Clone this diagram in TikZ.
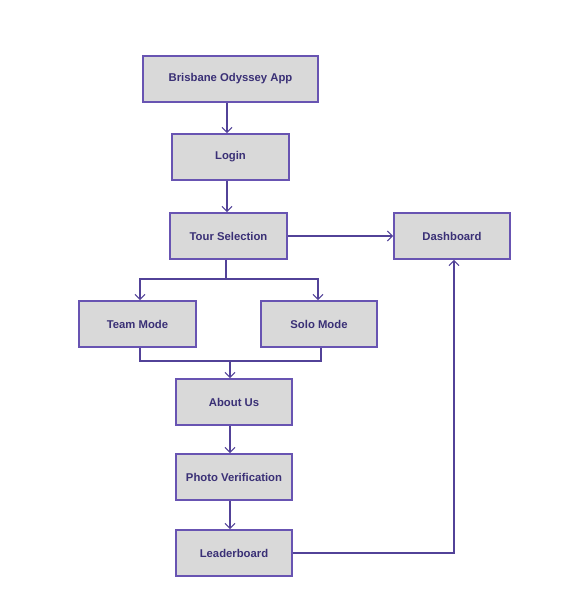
\documentclass[tikz,border=0pt]{standalone}
\usepackage{fontspec}
\setmainfont{Liberation Sans}
\usetikzlibrary{positioning,arrows.meta}
\definecolor{boxEdge}{RGB}{104,84,178}
\definecolor{boxFill}{RGB}{217,217,217}
\definecolor{boxText}{RGB}{58,48,118}
\definecolor{flowLine}{RGB}{82,66,152}

\begin{document}
\begin{tikzpicture}[
  x=1pt, y=-1pt,
  >={Straight Barb[length=5pt, width=10pt, line width=1.1pt]},
  screen/.style={draw=boxEdge, line width=1.8pt, fill=boxFill, text=boxText,
    minimum width=117pt, minimum height=46pt, inner sep=0pt,
    font=\bfseries\fontsize{11.3}{13}\selectfont},
  flow/.style={draw=flowLine, line width=1.1pt},
]
\useasboundingbox (0,0) rectangle (584,612);

% ---- screens ----
\node[screen, minimum width=175pt] (APP) at (230.5,79) {Brisbane Odyssey App};
\node[screen] (LOGIN) at (230.5,157) {Login};
\node[screen] (TOUR)  at (228.5,236) {Tour Selection};
\node[screen, minimum width=116pt] (DASH) at (452,236) {Dashboard};
\node[screen] (TEAM)  at (137.5,324) {Team Mode};
\node[screen, minimum width=116pt] (SOLO) at (319,324) {Solo Mode};
\node[screen, minimum width=116pt] (ABOUT) at (234,402) {About Us};
\node[screen, minimum width=116pt] (PHOTO) at (234,477) {Photo Verification};
\node[screen, minimum width=116pt] (LEAD)  at (234,553) {Leaderboard};

% ---- line columns ----
\coordinate (colA)  at (227,0);
\coordinate (colB)  at (230,0);
\coordinate (colD)  at (454,0);
\coordinate (split) at (226,279);
\coordinate (merge) at (230,361);

% ---- main flow ----
\draw[flow,->] (APP.south -| colA) -- (LOGIN.north -| colA);
\draw[flow,->] (LOGIN.south -| colA) -- (TOUR.north -| colA);
\draw[flow,->] (TOUR) -- (DASH);

% ---- mode split / merge ----
\draw[flow] (TOUR.south -| split) -- (split);
\draw[flow,->] (split) -| ([xshift=2.5pt]TEAM.north);
\draw[flow,->] (split) -| ([xshift=-1pt]SOLO.north);
\draw[flow] ([xshift=2.5pt]TEAM.south) |- (merge) -| ([xshift=2pt]SOLO.south);
\draw[flow,->] (merge) -- (ABOUT.north -| merge);

% ---- tail ----
\draw[flow,->] (ABOUT.south -| colB) -- (PHOTO.north -| colB);
\draw[flow,->] (PHOTO.south -| colB) -- (LEAD.north -| colB);
\draw[flow,->] (LEAD.east) -| (DASH.south -| colD);

\end{tikzpicture}
\end{document}
